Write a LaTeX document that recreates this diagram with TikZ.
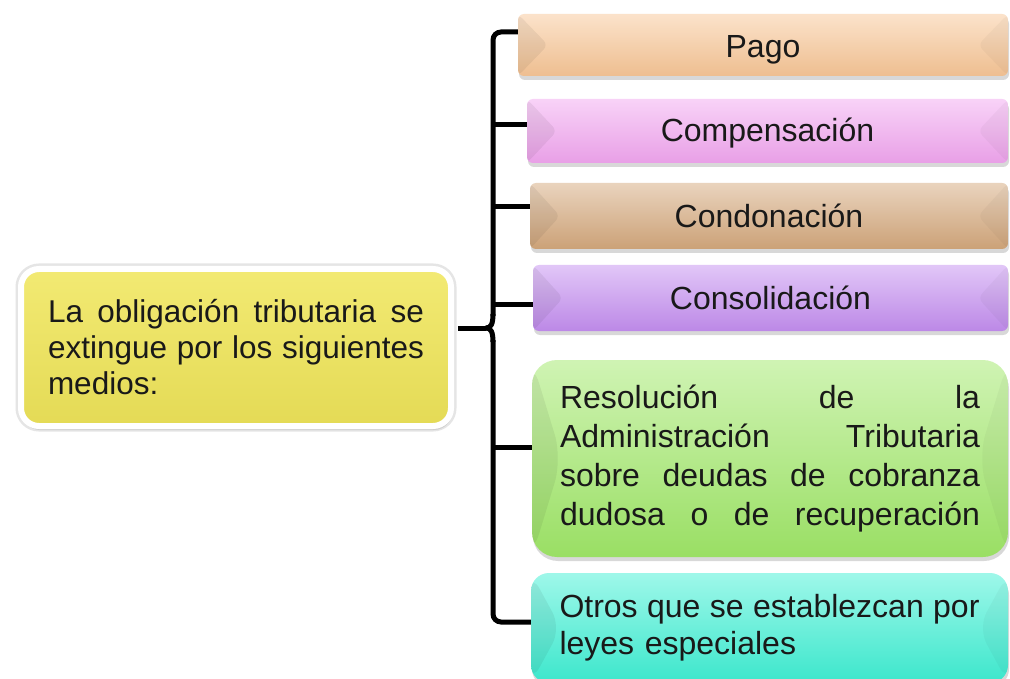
\documentclass[tikz,border=0pt]{standalone}
\usepackage{fontspec}
\setmainfont{Liberation Sans}
\usetikzlibrary{shadows,calc}
\definecolor{pagoC}{RGB}{248,198,150}
\definecolor{compC}{RGB}{242,166,240}
\definecolor{condC}{RGB}{212,168,124}
\definecolor{consC}{RGB}{196,142,240}
\definecolor{resC}{RGB}{160,232,104}
\definecolor{otrC}{RGB}{62,240,212}
\definecolor{mainC}{RGB}{240,230,90}
\newcommand\jrow[2]{\leavevmode\hbox to #1{#2}}
\tikzset{
  bev/.style={rectangle, rounded corners=6pt, inner sep=0pt,
    top color=#1!50!white, middle color=#1, bottom color=#1!96!black,
    drop shadow={opacity=.3, shadow xshift=1pt, shadow yshift=-4pt},
    path picture={
      \fill[black,opacity=.06] (path picture bounding box.north west)
        -- ([xshift=30pt]path picture bounding box.west)
        -- (path picture bounding box.south west) -- cycle;
      \fill[black,opacity=.03] (path picture bounding box.north east)
        -- ([xshift=-30pt]path picture bounding box.east)
        -- (path picture bounding box.south east) -- cycle;
    },
    text=black!90, font=\fontsize{32}{39}\selectfont},
  mainbox/.style={rectangle, rounded corners=18pt, inner sep=0pt,
    top color=mainC!85!white, middle color=mainC, bottom color=mainC!95!black,
    preaction={draw=black!10, line width=11pt},
    draw=white, line width=6pt,
    drop shadow={opacity=.2, shadow xshift=1pt, shadow yshift=-4pt},
    text=black!90, font=\fontsize{31.5}{36}\selectfont},
  conn/.style={line width=5pt, black},
}
\begin{document}
\begin{tikzpicture}[x=1pt,y=-1pt]
\useasboundingbox (0,0) rectangle (1010,679);
\fill[white] (0,0) rectangle (1010,679);

\node[mainbox, minimum width=430pt, minimum height=157pt, text width=376pt, align=left] (main) at (236,347.5)
  {\jrow{376pt}{La\hfill obligación\hfill tributaria\hfill se}\\
   \jrow{376pt}{extingue\hfill por\hfill los\hfill siguientes}\\
   medios:};

\node[bev=pagoC, minimum width=490pt, minimum height=62pt] (pago) at (763,45) {\raisebox{-5pt}[23pt][7pt]{Pago}};
\node[bev=compC, minimum width=481pt, minimum height=64pt] (comp) at (767.5,131) {\raisebox{-3pt}[23pt][7pt]{Compensación}};
\node[bev=condC, minimum width=478pt, minimum height=66pt] (cond) at (769,216) {Condonación};
\node[bev=consC, minimum width=475pt, minimum height=66pt] (cons) at (770.5,298) {Consolidación};
\node[bev=resC, rounded corners=25pt, minimum width=476pt, minimum height=197pt, text width=420pt, align=left] (res) at (770,458.5)
  {\jrow{420pt}{Resolución\hfill de\hfill la}\\
   \jrow{420pt}{Administración\hfill Tributaria}\\
   \jrow{420pt}{sobre\hfill deudas\hfill de\hfill cobranza}\\
   \jrow{420pt}{dudosa\hfill o\hfill de\hfill recuperación}};
\node[bev=otrC, rounded corners=18pt, minimum width=477pt, minimum height=110pt, text width=420pt, align=left, font=\fontsize{32}{37}\selectfont] (otros) at (769.5,628)
  {\jrow{420pt}{Otros\hfill que\hfill se\hfill establezcan\hfill por}\\ leyes especiales};

\coordinate (tip) at (486,328);
\coordinate (spx) at (493,0);

\draw[conn, shorten <=4pt] ([yshift=19.5pt]main.east) -- (tip);
\draw[conn] (tip) .. controls (491,328) and (493,324) .. (493,314);
\draw[conn, rounded corners=8pt] (493,316) |- ([yshift=13pt]pago.west);
\draw[conn] (tip) .. controls (491,328) and (493,332) .. (493,342);
\draw[conn, rounded corners=8pt] (493,340) |- ([yshift=6pt]otros.west);
\draw[conn] ([yshift=6pt]comp.west -| spx) -- ([yshift=6pt]comp.west);
\draw[conn] ([yshift=9pt]cond.west -| spx) -- ([yshift=9pt]cond.west);
\draw[conn] ([yshift=-7pt]cons.west -| spx) -- ([yshift=-7pt]cons.west);
\draw[conn] ([yshift=11pt]res.west -| spx) -- ([yshift=11pt]res.west);
\end{tikzpicture}
\end{document}
